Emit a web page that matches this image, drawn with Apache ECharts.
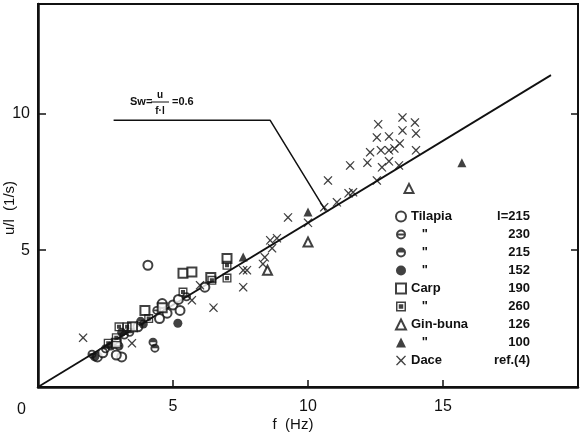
<!DOCTYPE html>
<html>
<head>
<meta charset="utf-8">
<script src="https://cdn.jsdelivr.net/npm/echarts@6/dist/echarts.min.js"></script>
<style>
  html, body { margin: 0; padding: 0; background: #fff; }
  #chart { width: 585px; height: 432px; }
</style>
</head>
<body>
<div id="chart"></div>
<script>
// values: [f (Hz), U/l (1/s)]
var tilapia215 = [[4.07,4.45],[5.0,3.0],[5.26,2.8],[4.78,2.7],[4.5,2.5],[6.18,3.65],[3.1,1.1],[2.9,1.17],[2.2,1.1],[3.7,2.2],[5.2,3.2],[4.6,3.05],[2.4,1.25]];
var tilapia230 = [[2.0,1.2],[3.4,2.0],[4.4,2.8],[3.0,1.5],[5.5,3.3]];
var tilapia215b = [[4.26,1.64],[4.33,1.42],[3.2,1.9],[2.5,1.4],[3.8,2.4]];
var tilapia152 = [[5.18,2.33],[2.1,1.1],[3.1,2.0],[3.9,2.3],[2.7,1.5]];
var carp190 = [[5.37,4.16],[5.7,4.2],[7.0,4.7],[3.96,2.8],[4.6,2.9],[2.9,1.6],[3.5,2.2],[6.4,4.0]];
var carp260 = [[7.0,4.45],[6.44,3.9],[7.0,3.98],[5.37,3.47],[3.3,2.2],[2.6,1.6],[3.0,2.2],[2.9,1.8],[4.1,2.5]];
var ginbuna126 = [[8.5,4.27],[10.0,5.3],[13.74,7.26]];
var ginbuna100 = [[7.6,4.75],[10.0,6.4],[15.7,8.2]];
var dace = [[1.67,1.8],[3.48,1.6],[5.7,3.17],[6.0,3.72],[6.5,2.9],[7.6,4.27],[7.6,3.65],[7.74,4.27],
  [8.33,4.5],[8.4,4.74],[8.67,5.07],[8.6,5.36],[8.85,5.44],[9.26,6.2],[10.0,6.0],[10.6,6.57],
  [11.07,6.75],[11.5,7.08],[11.67,7.12],[10.74,7.55],[12.55,7.55],[11.56,8.1],[12.2,8.2],[12.74,8.03],
  [13.0,8.25],[13.37,8.1],[12.3,8.58],[12.7,8.65],[13.0,8.65],[13.2,8.72],[14.0,8.65],[13.4,8.9],
  [12.55,9.12],[13.0,9.16],[14.0,9.27],[13.5,9.38],[12.6,9.6],[13.96,9.67],[13.5,9.85]];

var fitX = [0, 19];
var fitY = [0, 11.4];
var leaderX = [2.8, 8.6, 10.65];
var leaderY = [9.75, 9.75, 6.45];

var xTicks = [0, 5, 10, 15, 20];
var yTicks = [0, 5, 10];

var legendNames = ['Tilapia', '   "', '   "', '   "', 'Carp', '   "', 'Gin-buna', '   "', 'Dace'];
var legendSizes = ['l=215', '230', '215', '152', '190', '260', '126', '100', 'ref.(4)'];

var ink = '#111';
var ring = 'M0,-10 A10,10 0 1,1 0,10 A10,10 0 1,1 0,-10 Z M0,-6 A6,6 0 1,0 0,6 A6,6 0 1,0 0,-6 Z ';
var symBar = 'path://' + ring + 'M-7,-2 L7,-2 L7,2 L-7,2 Z';
var symHalf = 'path://' + ring + 'M-7,0 A7,7 0 0,1 7,0 Z';
var symSq = 'path://M-10,-10 L10,-10 L10,10 L-10,10 Z M-7,-7 L-7,7 L7,7 L7,-7 Z M-4.5,-4.5 L4.5,-4.5 L4.5,4.5 L-4.5,4.5 Z';
var symX = 'path://M-10,-8.5 L-8,-10 L0,-2.2 L8,-10 L10,-8.5 L2.2,0 L10,8.5 L8,10 L0,2.2 L-8,10 L-10,8.5 L-2.2,0 Z';

function pairs(a, b) { return a.map(function (v, i) { return [v, b[i]]; }); }

var groups = [
  { id: 'Tilapia 215', data: tilapia215, symbol: 'circle', open: true },
  { id: 'Tilapia 230', data: tilapia230, symbol: symBar },
  { id: 'Tilapia 215b', data: tilapia215b, symbol: symHalf },
  { id: 'Tilapia 152', data: tilapia152, symbol: 'circle' },
  { id: 'Carp 190', data: carp190, symbol: 'rect', open: true },
  { id: 'Carp 260', data: carp260, symbol: symSq },
  { id: 'Gin-buna 126', data: ginbuna126, symbol: 'triangle', open: true },
  { id: 'Gin-buna 100', data: ginbuna100, symbol: 'triangle' },
  { id: 'Dace', data: dace, symbol: symX, size: 9 }
];
var groupIds = groups.map(function (g) { return g.id; });

var series = groups.map(function (g) {
  return {
    name: g.id,
    type: 'scatter',
    data: g.data,
    symbol: g.symbol,
    symbolSize: g.size || 9,
    z: 3,
    itemStyle: g.open
      ? { color: '#fff', borderColor: ink, borderWidth: 2 }
      : { color: ink, borderWidth: 0 }
  };
});
series.push({
  type: 'line', data: pairs(fitX, fitY), symbol: 'none', silent: true,
  lineStyle: { color: ink, width: 1.8 }, z: 2
});
series.push({
  type: 'line', data: pairs(leaderX, leaderY), symbol: 'none', silent: true,
  lineStyle: { color: ink, width: 1.5 }, z: 2
});

var lf = 'Liberation Sans, Arial, sans-serif';
var chart = echarts.init(document.getElementById('chart'));
chart.setOption({
  backgroundColor: '#fff',
  animation: false,
  grid: { left: 38, right: 7, top: 4, bottom: 45, show: true, borderColor: ink, borderWidth: 2 },
  legend: {
    orient: 'vertical', left: 390, top: 205, itemWidth: 10, itemHeight: 10, itemGap: 5,
    data: groupIds,
    formatter: function (name) {
      var i = groupIds.indexOf(name);
      return '{n|' + legendNames[i] + '}{v|' + legendSizes[i] + '}';
    },
    textStyle: {
      rich: {
        n: { width: 86, fontSize: 13, lineHeight: 14, color: ink, fontFamily: lf, fontWeight: 'bold' },
        v: { width: 33, align: 'right', fontSize: 13, lineHeight: 14, color: ink, fontFamily: lf, fontWeight: 'bold' }
      }
    }
  },
  xAxis: {
    type: 'value', min: 0, max: 20, interval: 5,
    axisLine: { lineStyle: { color: ink, width: 2.5 } },
    axisTick: { inside: true, length: 7, lineStyle: { color: ink, width: 1.5 } },
    axisLabel: {
      margin: 12, fontSize: 16, color: ink, fontFamily: lf, showMinLabel: false, showMaxLabel: false,
      formatter: function (v) { return xTicks.indexOf(v) >= 0 ? String(v) : ''; }
    },
    splitLine: { show: false }
  },
  yAxis: [{
    type: 'value', min: 0, max: 14, interval: 5,
    axisLine: { show: true, lineStyle: { color: ink, width: 2.5 } },
    axisTick: { show: true, inside: true, length: 8, lineStyle: { color: ink, width: 1.5 } },
    axisLabel: {
      margin: 8, fontSize: 16, color: ink, fontFamily: lf, showMinLabel: false,
      formatter: function (v) { return yTicks.indexOf(v) >= 0 ? String(v) : ''; }
    },
    splitLine: { show: false }
  }, {
    type: 'value', min: 0, max: 14, interval: 5, position: 'right',
    axisLine: { show: true, lineStyle: { color: ink, width: 2 } },
    axisTick: { show: true, inside: true, length: 7, lineStyle: { color: ink, width: 1.5 } },
    axisLabel: { show: false },
    splitLine: { show: false }
  }],
  series: series,
  graphic: [
    { type: 'text', left: 17, top: 402, style: { text: '0', font: '16px ' + lf, fill: ink } },
    { type: 'text', x: 293, y: 425, style: { text: 'f  (Hz)', font: '15px ' + lf, fill: ink, align: 'center', verticalAlign: 'middle' } },
    { type: 'text', x: 10, y: 208, rotation: Math.PI / 2, style: { text: 'u/l  (1/s)', font: '15px ' + lf, fill: ink, align: 'center', verticalAlign: 'middle' } },
    { type: 'text', x: 130, y: 102, style: { text: 'Sw=', font: 'bold 11px ' + lf, fill: ink, verticalAlign: 'middle' } },
    { type: 'text', x: 160, y: 95, style: { text: 'u', font: 'bold 10px ' + lf, fill: ink, align: 'center', verticalAlign: 'middle' } },
    { type: 'line', shape: { x1: 151, y1: 102, x2: 169, y2: 102 }, style: { stroke: ink, lineWidth: 1 } },
    { type: 'text', x: 160, y: 111, style: { text: 'f·l', font: 'bold 10px ' + lf, fill: ink, align: 'center', verticalAlign: 'middle' } },
    { type: 'text', x: 172, y: 102, style: { text: '=0.6', font: 'bold 11px ' + lf, fill: ink, verticalAlign: 'middle' } }
  ]
});
</script>
</body>
</html>
